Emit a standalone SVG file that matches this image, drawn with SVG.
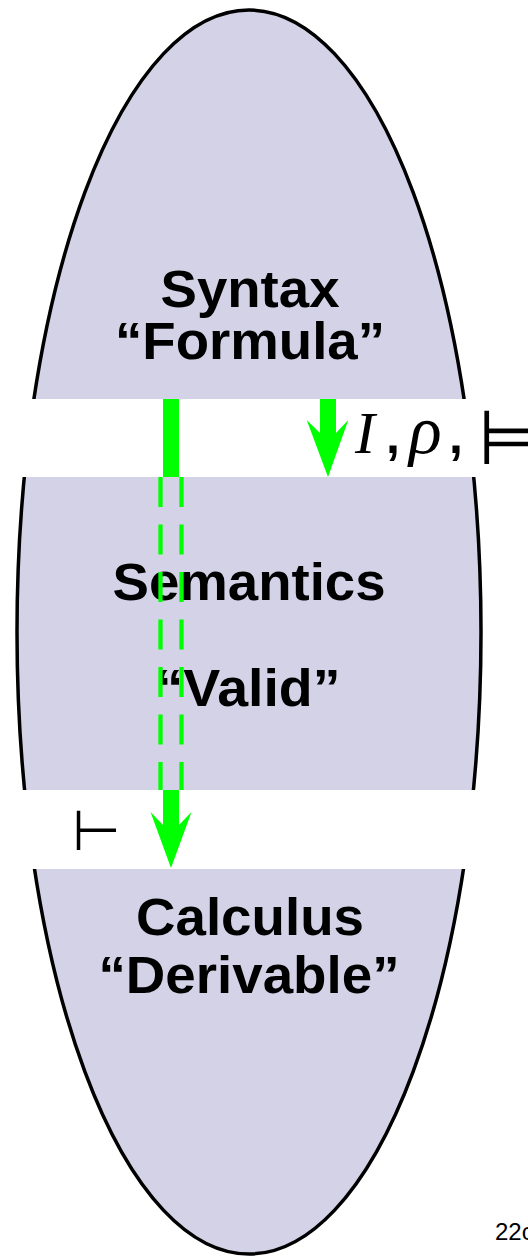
<svg xmlns="http://www.w3.org/2000/svg" width="528" height="1257" viewBox="0 0 528 1257">
<style>
.lbl{font-family:"Liberation Sans",Arial,sans-serif;font-weight:bold;font-size:51px;fill:#000;text-anchor:middle}
.band{fill:#fff}
.arrow{fill:#00ff00}
.dash{stroke:#00ff00;stroke-width:4.3;stroke-dasharray:30 17.5;fill:none}
.math{font-family:"Liberation Serif","Times New Roman",serif;font-style:italic;font-size:60px;fill:#000}
.sym{font-family:"DejaVu Sans",sans-serif;fill:#000}
.comma{font-family:"Liberation Sans",Arial,sans-serif;font-weight:bold;font-size:50px;font-style:normal}
</style>
<rect width="528" height="1257" fill="#fff"/>
<g id="region">
<ellipse cx="249" cy="632" rx="232" ry="622" fill="#d3d2e7" stroke="#000" stroke-width="3.5"/>
<rect class="band" x="0" y="399" width="528" height="78"/>
<rect class="band" x="0" y="790" width="528" height="79"/>
</g>
<g id="syntax">
<text class="lbl" x="250" y="307" textLength="179" lengthAdjust="spacingAndGlyphs">Syntax</text>
<text class="lbl" x="250" y="359" textLength="270" lengthAdjust="spacingAndGlyphs">“Formula”</text>
</g>
<g id="semantics">
<text class="lbl" x="249" y="600" textLength="273" lengthAdjust="spacingAndGlyphs">Semantics</text>
<text class="lbl" x="248" y="706" textLength="185" lengthAdjust="spacingAndGlyphs">“Valid”</text>
</g>
<g id="calculus">
<text class="lbl" x="250" y="935" textLength="228" lengthAdjust="spacingAndGlyphs">Calculus</text>
<text class="lbl" x="249" y="993" textLength="301" lengthAdjust="spacingAndGlyphs">“Derivable”</text>
</g>
<g id="connectors">
<polygon class="arrow" points="320,399 336,399 336,433 348.3,420 328,477 306.7,420 320,433"/>
<rect class="arrow" x="163" y="399" width="16" height="78"/>
<line class="dash" x1="160.5" y1="477" x2="160.5" y2="790"/>
<line class="dash" x1="181.5" y1="477" x2="181.5" y2="790"/>
<polygon class="arrow" points="163,790 179,790 179,825 191.5,812 171,868 150.5,812 163,825"/>
</g>
<g id="label-semantics">
<text class="math"><tspan x="355" y="453">I</tspan><tspan class="comma" x="386" y="453">,</tspan><tspan x="409" y="453" font-size="68">ρ</tspan><tspan class="comma" x="449" y="453">,</tspan></text>
<text class="sym" x="478" y="464" font-size="76" font-weight="normal">⊨</text>
</g>
<g id="label-calculus">
<text class="sym" x="72" y="850" font-size="56">⊢</text>
</g>
<text x="495" y="1240" font-family="Liberation Sans,Arial,sans-serif" font-size="24" fill="#000">22c</text>
</svg>
